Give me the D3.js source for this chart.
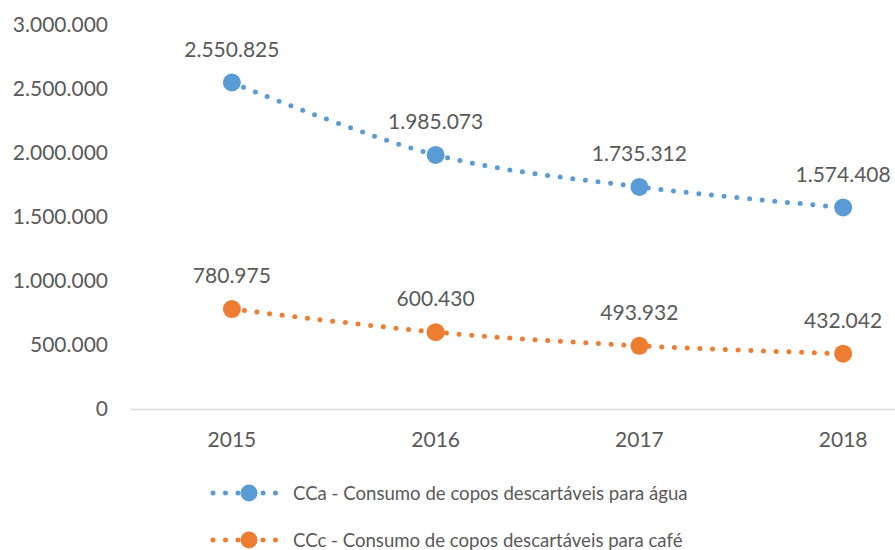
<!DOCTYPE html>
<html>
<head>
<meta charset="utf-8">
<script src="https://cdn.jsdelivr.net/npm/d3@7"></script>
<style>
  body { margin: 0; background: #fff; }
  svg text { font-family: Lato, "Open Sans", sans-serif; fill: #595959; }
</style>
</head>
<body>
<div id="chart"></div>
<script>
// data
var years = ["2015", "2016", "2017", "2018"];
var agua = [2550825, 1985073, 1735312, 1574408];
var cafe = [780975, 600430, 493932, 432042];
var yTicks = [0, 500000, 1000000, 1500000, 2000000, 2500000, 3000000];
var seriesNames = ["CCa - Consumo de copos descartáveis para água",
                   "CCc - Consumo de copos descartáveis para café"];
var colors = ["#5b9bd5", "#ed7d31"];

var width = 895, height = 550;

var locale = d3.formatLocale({ decimal: ",", thousands: ".", grouping: [3], currency: ["", ""] });
var fmt = locale.format(",d");

var svg = d3.select("#chart").append("svg")
    .attr("width", width)
    .attr("height", height);

var x = d3.scaleBand()
    .domain(years)
    .range([130, 945])
    .padding(0);

var y = d3.scaleLinear()
    .domain([0, 3000000])
    .range([409, 25]);

function cx(d) { return x(d) + x.bandwidth() / 2; }

// y axis (labels only)
svg.append("g")
    .attr("transform", "translate(130,0)")
    .call(d3.axisLeft(y).tickValues(yTicks).tickFormat(fmt).tickSize(0).tickPadding(22))
    .call(function (g) { g.select(".domain").remove(); })
    .selectAll("text")
    .style("font-size", "21px")
    .style("font-family", "Lato, sans-serif")
    .attr("fill", "#595959");

// x axis
var xa = svg.append("g")
    .attr("transform", "translate(0,409)")
    .call(d3.axisBottom(x).tickSize(0).tickPadding(23));
xa.select(".domain").attr("stroke", "#d9d9d9").attr("stroke-width", 1.5);
xa.selectAll("text")
    .style("font-size", "21px")
    .style("font-family", "Lato, sans-serif")
    .attr("fill", "#595959");

var line = d3.line()
    .x(function (d, i) { return cx(years[i]); })
    .y(function (d) { return y(d); })
    .curve(d3.curveCatmullRom.alpha(0.5));

var series = [agua, cafe];

series.forEach(function (vals, k) {
    svg.append("path")
        .datum(vals)
        .attr("d", line)
        .attr("fill", "none")
        .attr("stroke", colors[k])
        .attr("stroke-width", 5)
        .attr("stroke-linecap", "round")
        .attr("stroke-dasharray", "0 12.7");

    svg.selectAll(".pt" + k)
        .data(vals)
        .enter().append("circle")
        .attr("class", "pt" + k)
        .attr("cx", function (d, i) { return cx(years[i]); })
        .attr("cy", function (d) { return y(d); })
        .attr("r", 9)
        .attr("fill", colors[k]);

    svg.selectAll(".lbl" + k)
        .data(vals)
        .enter().append("text")
        .attr("class", "lbl" + k)
        .attr("x", function (d, i) { return cx(years[i]); })
        .attr("y", function (d) { return y(d) - 33; })
        .attr("text-anchor", "middle")
        .attr("dy", "0.35em")
        .style("font-size", "21px")
        .text(function (d) { return fmt(d); });
});

// legend
var legend = svg.selectAll(".legend")
    .data(seriesNames)
    .enter().append("g")
    .attr("class", "legend")
    .attr("transform", function (d, i) { return "translate(213," + (493 + i * 47) + ")"; });

legend.append("line")
    .attr("x1", 0).attr("x2", 72)
    .attr("stroke", function (d, i) { return colors[i]; })
    .attr("stroke-width", 5)
    .attr("stroke-linecap", "round")
    .attr("stroke-dasharray", "0 12.5");

legend.append("circle")
    .attr("cx", 36)
    .attr("r", 8.5)
    .attr("fill", function (d, i) { return colors[i]; });

legend.append("text")
    .attr("x", 80)
    .attr("dy", "0.35em")
    .style("font-size", "18.6px")
    .text(function (d) { return d; });
</script>
</body>
</html>
